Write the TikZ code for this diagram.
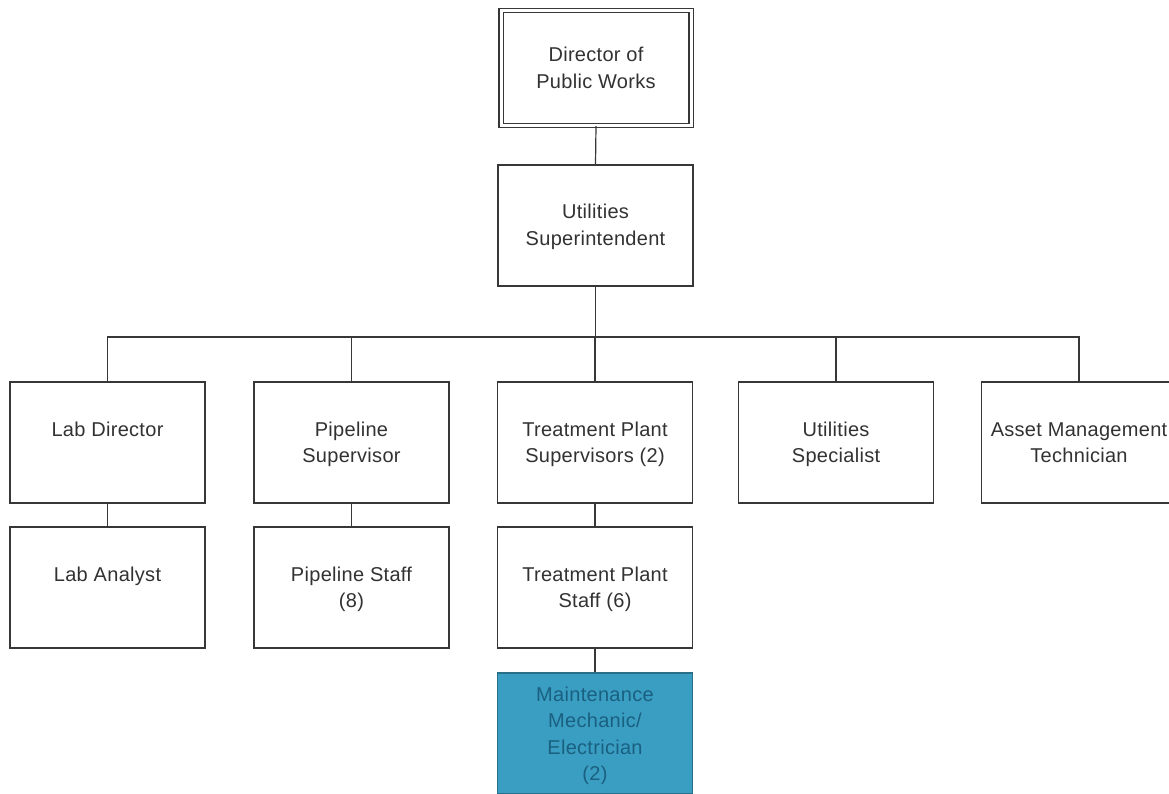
\documentclass[tikz,border=0pt]{standalone}
\usepackage{fontspec}
\setmainfont{Liberation Sans}[LetterSpace=1.5]
\definecolor{ln}{RGB}{55,55,55}
\definecolor{txt}{RGB}{50,50,50}
\definecolor{mfill}{RGB}{58,158,195}
\definecolor{mtxt}{RGB}{26,96,128}
\newcommand\bxtext[3][54pt]{\parbox[c][#2][t]{190pt}{\centering\rule{0pt}{#1}#3}}
\begin{document}
\begin{tikzpicture}[x=1pt,y=-1pt,
  box/.style={draw=ln, line width=1.2pt, fill=white, inner sep=0pt,
    minimum width=195pt, minimum height=121pt, text=txt,
    font=\fontsize{20}{26.5}\selectfont},
  dirbox/.style={box, double=white, double distance=3pt, line width=1.1pt,
    minimum width=189pt, minimum height=115pt},
  mbox/.style={box, fill=mfill, draw=mfill!70!black, text=mtxt},
  conn/.style={draw=ln, line width=1.2pt}]
\useasboundingbox (0,0) rectangle (1169,794);
\clip (0,0) rectangle (1169,794);
\fill[white] (0,0) rectangle (1169,794);

\node[dirbox] (dir) at (596,68) {\bxtext[51.4pt]{115pt}{Director of\\Public Works}};
\node[box] (sup) at (595.5,225.5) {\bxtext{121pt}{Utilities\\Superintendent}};

\node[box] (lab) at (107.5,442.5) {\bxtext{121pt}{Lab Director}};
\node[box] (pip) at (351.5,442.5) {\bxtext{121pt}{Pipeline\\Supervisor}};
\node[box] (tps) at (595,442.5) {\bxtext{121pt}{Treatment Plant\\Supervisors (2)}};
\node[box] (spec) at (836,442.5) {\bxtext{121pt}{Utilities\\Specialist}};
\node[box] (asset) at (1079,442.5) {\bxtext{121pt}{Asset Management\\Technician}};

\node[box] (ana) at (107.5,587.5) {\bxtext{121pt}{Lab Analyst}};
\node[box] (pst) at (351.5,587.5) {\bxtext{121pt}{Pipeline Staff\\(8)}};
\node[box] (tst) at (595,587.5) {\bxtext{121pt}{Treatment Plant\\Staff (6)}};

\node[mbox] (mech) at (595,733.5) {\bxtext[28pt]{121pt}{Maintenance\\Mechanic/\\Electrician\\(2)}};

\coordinate (bus) at (595.5,337);
\draw[conn] (dir.south) -- (sup.north);
\draw[conn] (sup.south) -- (bus);
\draw[conn] (lab.north) |- (bus) -| (asset.north);
\draw[conn] (pip.north) -- (pip.north |- bus);
\draw[conn] (tps.north) -- (tps.north |- bus);
\draw[conn] (spec.north) -- (spec.north |- bus);
\draw[conn] (lab.south) -- (ana.north);
\draw[conn] (pip.south) -- (pst.north);
\draw[conn] (tps.south) -- (tst.north);
\draw[conn] (tst.south) -- (mech.north);
\end{tikzpicture}
\end{document}
